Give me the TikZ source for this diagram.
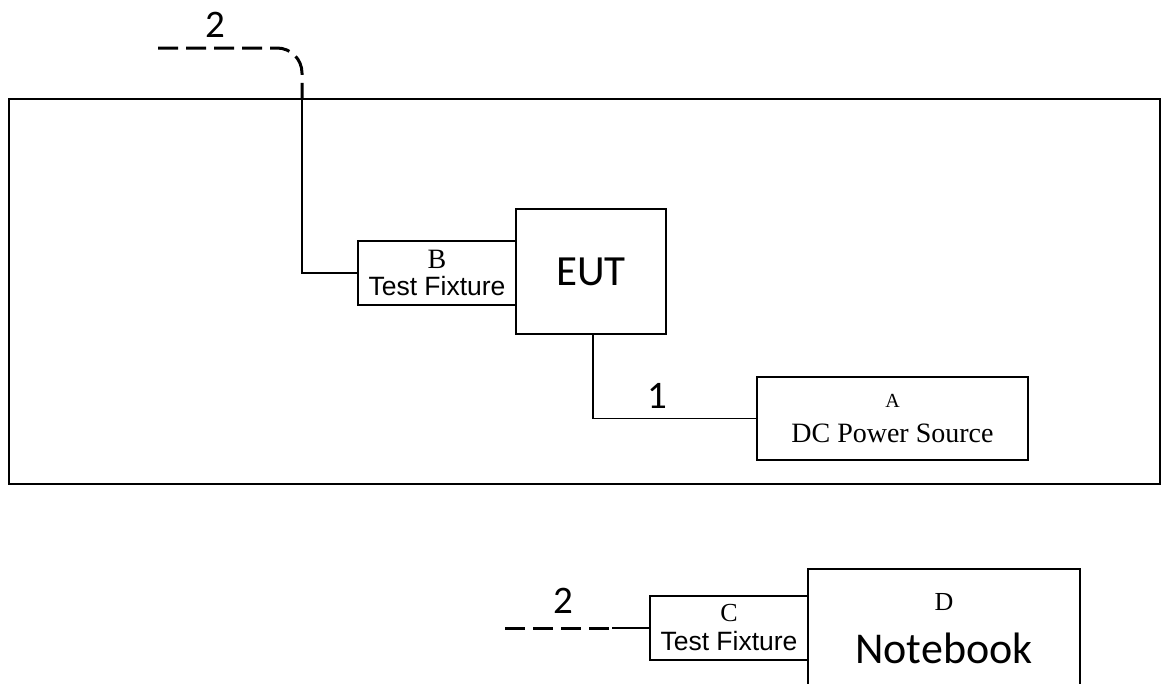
\documentclass[tikz,border=0pt]{standalone}
\usepackage{fontspec}
\setmainfont{Liberation Serif}
\newfontfamily\calibrifont{Carlito}
\newfontfamily\arialfont{Liberation Sans}
\usetikzlibrary{positioning}
\tikzset{
    boxnode/.style={
        draw,
        line width=1.5pt,
        inner sep=0pt,
        align=center
    },
    % 实线与虚线电缆
    wire/.style={line width=1.5pt, black},
    dashwire/.style={
        line width=3pt,
        black,
        dash pattern=on 20pt off 8pt
    },
    numlabel/.style={font=\calibrifont\fontsize{39}{39}\selectfont}
}

\begin{document}
\begin{tikzpicture}[x=1pt,y=-1pt]
   \clip (0,0) rectangle (1161,683);
   \path
    (158,48) coordinate (c2a)
    (302,99) coordinate (c2b)
    (505,628) coordinate (c2c)
    (612,628) coordinate (c2d);

    % 测试台外框
    \draw[line width=1.8pt] (9,99) rectangle (1160,484);

    % 设备方框
    \node[boxnode, minimum width=150pt, minimum height=125pt,
          font=\calibrifont\fontsize{43}{43}\selectfont] (eut) at (591,271.5) {EUT};
    \node[boxnode, minimum width=158pt, minimum height=64pt,
          font=\fontsize{26}{27}\selectfont] (fixb) at (437,273)
        {{\fontsize{28}{27}\selectfont B}\\{\arialfont\fontsize{26.5}{27}\selectfont Test Fixture}};
    \node[boxnode, minimum width=271pt, minimum height=83pt,
          font=\fontsize{20}{35}\selectfont] (dcsrc) at (892.5,418.5)
        {A\\{\fontsize{28}{35}\selectfont DC Power Source}};
    \node[boxnode, minimum width=158pt, minimum height=64pt,
          font=\fontsize{26}{29}\selectfont] (fixc) at (729,628)
        {C\\{\arialfont\fontsize{26.5}{29}\selectfont Test Fixture}};
    \node[boxnode, anchor=north, minimum width=272pt, minimum height=170pt] (nb) at (944,568) {};
    \node[font=\fontsize{26}{26}\selectfont] (nbtag) at (944,602) {D};
    \node[font=\calibrifont\fontsize{44}{44}\selectfont] (nbname) at (944,648) {Notebook};

    % 电缆连线
    \draw[dashwire, rounded corners=25pt] (c2a) -| (c2b);
    \draw[wire] (c2b) |- (fixb.west);
    \draw[wire] ([xshift=2pt]eut.south) |- (dcsrc.west);
    \draw[dashwire] (c2c) -- (c2d);
    \draw[wire] (c2d) -- (fixc.west);

    % 电缆编号
    \node[numlabel] (num2a) at (215,25) {2};
    \node[numlabel] (num1) at (657,396) {1};
    \node[numlabel] (num2b) at (563,601) {2};

\end{tikzpicture}
\end{document}
